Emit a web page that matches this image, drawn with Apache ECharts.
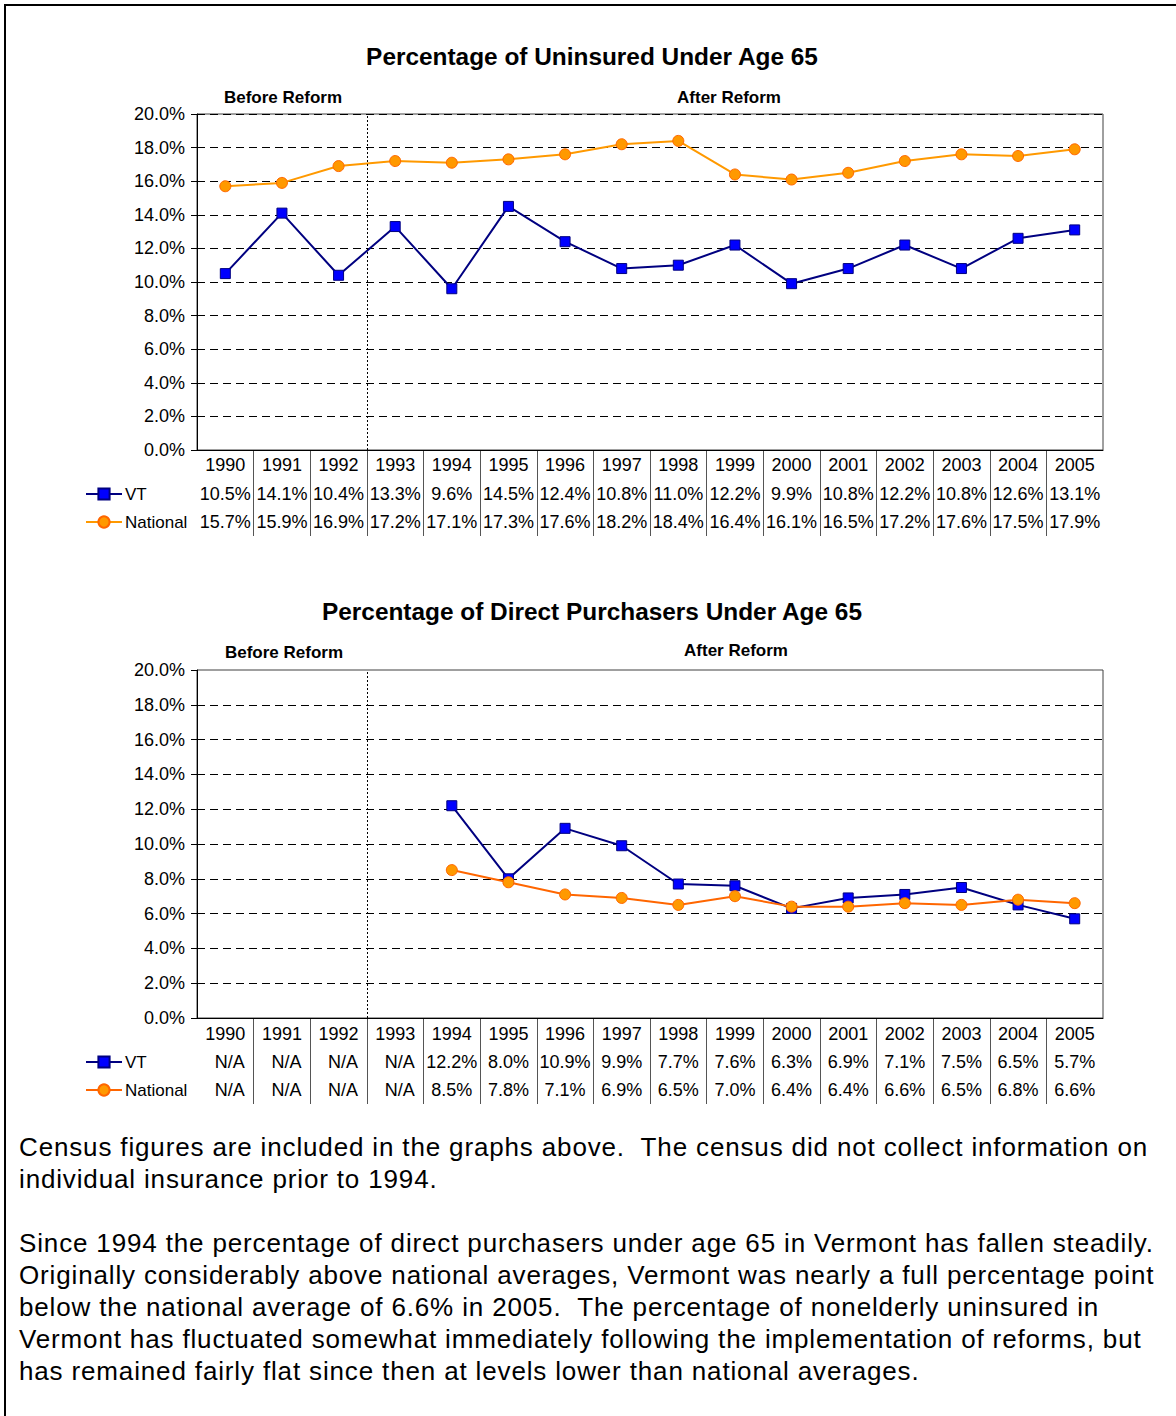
<!DOCTYPE html>
<html>
<head>
<meta charset="utf-8">
<script src="https://cdn.jsdelivr.net/npm/echarts@6/dist/echarts.min.js"></script>
<style>
html,body{margin:0;padding:0;background:#fff;width:1176px;height:1416px;overflow:hidden;position:relative;font-family:Arial,"Liberation Sans",sans-serif;}
#frame{position:absolute;left:4px;top:4px;width:1400px;height:1600px;border-left:2px solid #000;border-top:2px solid #000;}
#c1{position:absolute;left:0;top:0;width:1176px;height:555px;}
#c2{position:absolute;left:0;top:560px;width:1176px;height:555px;}
#txt{position:absolute;left:19px;top:1131px;font-size:26px;line-height:32px;letter-spacing:0.85px;white-space:nowrap;color:#000;}
</style>
</head>
<body>
<div id="frame"></div>
<div id="c1"></div>
<div id="c2"></div>
<div id="txt">Census figures are included in the graphs above.&nbsp; The census did not collect information on<br>individual insurance prior to 1994.<br><br>Since 1994 the percentage of direct purchasers under age 65 in Vermont has fallen steadily.<br>Originally considerably above national averages, Vermont was nearly a full percentage point<br>below the national average of 6.6% in 2005.&nbsp; The percentage of nonelderly uninsured in<br>Vermont has fluctuated somewhat immediately following the implementation of reforms, but<br>has remained fairly flat since then at levels lower than national averages.</div>
<script>
// ---- data ----
const years = ['1990','1991','1992','1993','1994','1995','1996','1997','1998','1999','2000','2001','2002','2003','2004','2005'];
const reformStartIndex = 3; // 1993 is first year after reform
const yMin = 0, yMax = 20, yInterval = 2;

const vtUninsured  = [10.5,14.1,10.4,13.3,9.6,14.5,12.4,10.8,11.0,12.2,9.9,10.8,12.2,10.8,12.6,13.1];
const natUninsured = [15.7,15.9,16.9,17.2,17.1,17.3,17.6,18.2,18.4,16.4,16.1,16.5,17.2,17.6,17.5,17.9];

const vtDirect  = [null,null,null,null,12.2,8.0,10.9,9.9,7.7,7.6,6.3,6.9,7.1,7.5,6.5,5.7];
const natDirect = [null,null,null,null,8.5,7.8,7.1,6.9,6.5,7.0,6.4,6.4,6.6,6.5,6.8,6.6];

const title1 = 'Percentage of Uninsured Under Age 65';
const title2 = 'Percentage of Direct Purchasers Under Age 65';
const beforeText = 'Before Reform';
const afterText = 'After Reform';

function pct(v){ return v == null ? '{na|N/A}' : v.toFixed(1) + '%'; }

const FONT = 'Arial, "Liberation Sans", sans-serif';

function build(cfg){
  const vtLabels = cfg.vt.map(pct);
  const natLabels = cfg.nat.map(pct);
  const gLeft = 197, gWidth = 906;
  const txt = (t, x, y, size) => ({
    type:'text', x:x, y:y, silent:true,
    style:{text:t, fontSize:size, fontWeight:'bold', fontFamily:FONT, fill:'#000', align:'center', verticalAlign:'middle'}
  });
  const tableLabel = (labels, offset) => ({
    gridIndex:0, type:'category', data:years, position:'bottom', offset:offset,
    axisLine:{show:false}, axisTick:{show:false}, splitLine:{show:false},
    axisLabel:{interval:0, margin:5, fontSize:18, color:'#000', fontFamily:FONT,
      formatter:(v,i)=>labels[i],
      rich:{na:{fontSize:18, color:'#000', fontFamily:FONT, padding:[0,0,0,9]}}}
  });
  return {
    animation:false,
    textStyle:{fontFamily:FONT},
    graphic:[
      txt(cfg.title, 592, cfg.titleY, 24.4),
      txt(beforeText, cfg.beforeX, cfg.beforeY, 17),
      txt(afterText, cfg.afterX, cfg.afterY, 17)
    ],
    legend:{
      orient:'vertical', left:85, top:cfg.top + cfg.h + 35, padding:0,
      itemGap:10, itemWidth:36, itemHeight:14, selectedMode:false,
      textStyle:{fontSize:17, color:'#000', lineHeight:18, fontFamily:FONT, padding:[0,0,0,-2]},
      data:['VT','National']
    },
    grid:[
      {left:gLeft, top:cfg.top, width:gWidth, height:cfg.h, show:true, borderColor:'#404040', borderWidth:1, backgroundColor:'#fff', outerBoundsMode:'none'},
      {left:gLeft, top:cfg.top + cfg.h, width:gWidth, height:86, show:false, outerBoundsMode:'none'}
    ],
    xAxis:[
      {gridIndex:0, type:'category', data:years, boundaryGap:true,
        axisLine:{show:true, lineStyle:{color:'#000', width:1}}, axisTick:{show:false}, splitLine:{show:false},
        axisLabel:{interval:0, margin:cfg.yearMargin, fontSize:18, color:'#000', fontFamily:FONT}},
      tableLabel(vtLabels, 30),
      tableLabel(natLabels, 58),
      {gridIndex:0, type:'value', min:0, max:years.length, show:false},
      {gridIndex:1, type:'category', data:years, boundaryGap:true,
        axisLine:{show:false}, axisTick:{show:false}, axisLabel:{show:false},
        splitLine:{show:true, showMinLine:false, showMaxLine:false, interval:0, lineStyle:{color:'#555', width:1}}}
    ],
    yAxis:[
      {gridIndex:0, type:'value', min:yMin, max:yMax, interval:yInterval,
        axisLine:{show:true, lineStyle:{color:'#000', width:1}},
        axisTick:{show:true, length:6, lineStyle:{color:'#000'}},
        axisLabel:{fontSize:18, color:'#000', margin:12, fontFamily:FONT, formatter:v=>v.toFixed(1)+'%'},
        splitLine:{show:true, showMaxLine:cfg.showTopDash, lineStyle:{color:'#000', type:[8,5], width:1}}},
      {gridIndex:1, type:'value', show:false}
    ],
    series:[
      {name:'VT', type:'line', xAxisIndex:0, yAxisIndex:0, data:cfg.vt,
        symbol:'rect', symbolSize:10, color:'#000080',
        lineStyle:{color:'#000080', width:2},
        itemStyle:{color:'#0000FF', borderColor:'#000080', borderWidth:1}},
      {name:'National', type:'line', xAxisIndex:0, yAxisIndex:0, data:cfg.nat,
        symbol:'circle', symbolSize:11, color:cfg.natLine,
        lineStyle:{color:cfg.natLine, width:2},
        itemStyle:{color:'#FF9900', borderColor:'#FF6600', borderWidth:1}},
      {type:'line', xAxisIndex:3, yAxisIndex:0, data:[], silent:true,
        markLine:{silent:true, symbol:'none', label:{show:false},
          lineStyle:{color:'#000', type:[2,2], width:1},
          data:[{xAxis:reformStartIndex}]}}
    ]
  };
}

const chart1 = echarts.init(document.getElementById('c1'), null, {renderer:'svg'});
chart1.setOption(build({
  title:title1, titleY:56, beforeX:283, beforeY:97, afterX:729, afterY:97,
  top:114, h:336, yearMargin:6, vt:vtUninsured, nat:natUninsured, natLine:'#FF9900', showTopDash:true
}));

const chart2 = echarts.init(document.getElementById('c2'), null, {renderer:'svg'});
chart2.setOption(build({
  title:title2, titleY:51, beforeX:284, beforeY:92, afterX:736, afterY:90,
  top:110, h:348, yearMargin:7, vt:vtDirect, nat:natDirect, natLine:'#FF6600', showTopDash:false
}));
</script>
</body>
</html>
